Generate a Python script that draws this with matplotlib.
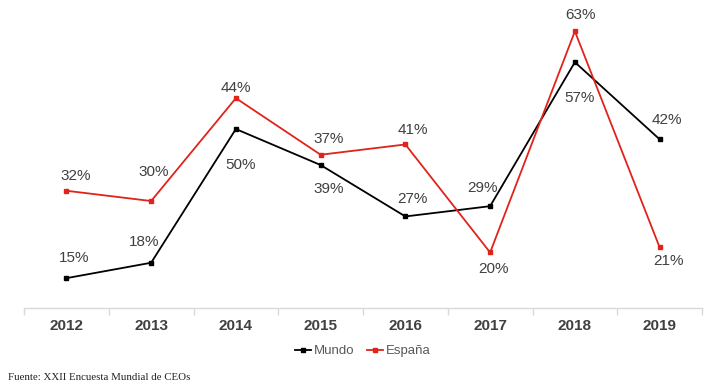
import matplotlib.pyplot as plt
import numpy as np

years = ['2012', '2013', '2014', '2015', '2016', '2017', '2018', '2019']
mundo = [15, 18, 44, 37, 27, 29, 57, 42]
espana = [32, 30, 50, 39, 41, 20, 63, 21]
mundo_labels = ['15%', '18%', '50%', '39%', '27%', '29%', '57%', '42%']
espana_labels = ['32%', '30%', '44%', '37%', '41%', '20%', '63%', '21%']

# label offsets in pixels (dx, dy), dy positive = up
mundo_off = [(8, 20), (-7, 21), (5, -36), (8, -24), (7, 17), (-8, 18), (5, -36), (7, 19)]
espana_off = [(9, 15), (3, 29), (0, 10), (8, 16), (8, 14), (3, -17), (6, 16), (9, -14)]

red = '#e0231b'
txt = '#404040'
plt.rcParams['font.family'] = ['Liberation Sans', 'DejaVu Sans']

fig = plt.figure(figsize=(7.2, 3.9), dpi=100)
ax = fig.add_axes([24/720, 82/390, 678/720, 288/390])
x = np.arange(len(years))

ax.plot(x, mundo, color='black', lw=1.3, marker='s', ms=3.3, label='Mundo')
ax.plot(x, espana, color=red, lw=1.3, marker='s', ms=3.3, label='España')

for i in range(len(years)):
    ax.annotate(mundo_labels[i], (x[i], mundo[i]), xytext=mundo_off[i], textcoords='offset pixels',
                ha='center', va='center', fontsize=11, color=txt)
    ax.annotate(espana_labels[i], (x[i], espana[i]), xytext=espana_off[i], textcoords='offset pixels',
                ha='center', va='center', fontsize=11, color=txt)

ax.set_xlim(-0.5, len(years) - 0.5)
ax.set_ylim(9.2, 65.2)
ax.set_yticks([])
ax.set_xticks(x)
ax.set_xticklabels(years, fontsize=11, fontweight='bold', color=txt)
ax.set_xticks(np.arange(len(years) + 1) - 0.5, minor=True)
ax.tick_params(axis='x', which='major', length=0, pad=8)
ax.tick_params(axis='x', which='minor', length=5, color='#d9d9d9', width=1)
for s in ['top', 'left', 'right']:
    ax.spines[s].set_visible(False)
ax.spines['bottom'].set_color('#d9d9d9')
ax.spines['bottom'].set_linewidth(1)

leg = ax.legend(loc='center', bbox_to_anchor=(0.5, -0.15), ncol=2, frameon=False, fontsize=9.5,
                handlelength=1.2, handletextpad=0.2, columnspacing=1.0, labelcolor='#595959')

fig.text(8/720, 1 - 377/390, 'Fuente: XXII Encuesta Mundial de CEOs', family='Liberation Serif',
         fontsize=7.8, color='#222222', va='center', ha='left')

fig.savefig('out.png', dpi=100)
